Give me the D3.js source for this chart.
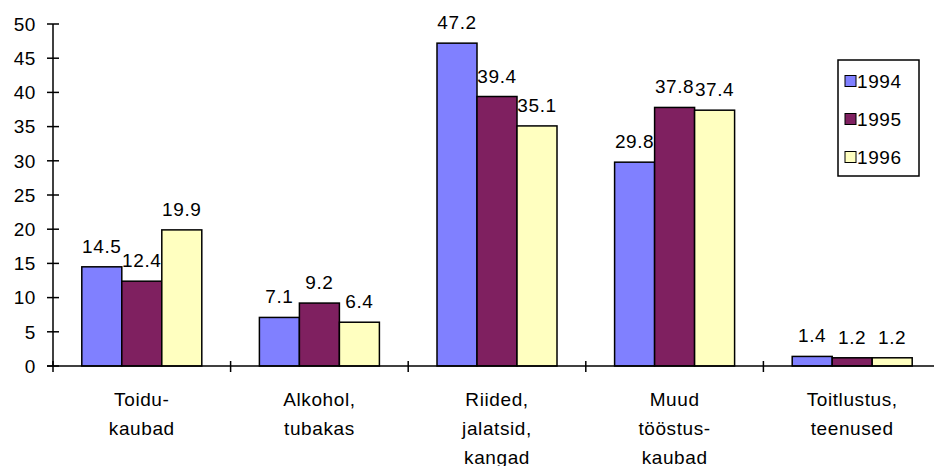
<!DOCTYPE html>
<html>
<head>
<meta charset="utf-8">
<script src="https://cdn.jsdelivr.net/npm/d3@7"></script>
<style>
  body { margin: 0; background: #fff; }
  text { font-family: "Liberation Sans", Arial, sans-serif; fill: #000; letter-spacing: 0.6px; }
</style>
</head>
<body>
<svg class="chart"></svg>
<script>
var categories = ["Toidu-|kaubad", "Alkohol,|tubakas", "Riided,|jalatsid,|kangad", "Muud|tööstus-|kaubad", "Toitlustus,|teenused"];
var years = ["1994", "1995", "1996"];
var v1994 = [14.5, 7.1, 47.2, 29.8, 1.4];
var v1995 = [12.4, 9.2, 39.4, 37.8, 1.2];
var v1996 = [19.9, 6.4, 35.1, 37.4, 1.2];
var yTicks = [0, 5, 10, 15, 20, 25, 30, 35, 40, 45, 50];
var colors = ["#8080ff", "#7f2060", "#ffffc0"];

var width = 934, height = 466;
var x0 = 53, x1 = 941, yTop = 24, yBase = 366;

var series = [v1994, v1995, v1996];

var x = d3.scaleBand()
  .domain(categories)
  .range([x0, x1]);
var xs = d3.scaleBand()
  .domain(years)
  .range([0, x.bandwidth()])
  .paddingOuter(0.72);
var y = d3.scaleLinear()
  .domain([0, 50])
  .range([yBase, yTop]);

var svg = d3.select(".chart")
  .attr("width", width)
  .attr("height", height);

// y axis
var yAxis = svg.append("g");
yAxis.append("line")
  .attr("x1", x0).attr("x2", x0)
  .attr("y1", y(50)).attr("y2", y(0))
  .attr("stroke", "#000").attr("stroke-width", 1.5);
yAxis.selectAll(".tk")
  .data(yTicks)
  .enter().append("line")
    .attr("x1", x0 - 6).attr("x2", x0 + 6)
    .attr("y1", function(d) { return y(d); })
    .attr("y2", function(d) { return y(d); })
    .attr("stroke", "#000").attr("stroke-width", 1.5);
yAxis.selectAll(".lbl")
  .data(yTicks)
  .enter().append("text")
    .attr("x", 36)
    .attr("y", function(d) { return y(d); })
    .attr("dy", "0.36em")
    .attr("text-anchor", "end")
    .style("font-size", "19px")
    .text(function(d) { return d; });

// bars
categories.forEach(function(c, i) {
  years.forEach(function(yr, j) {
    var v = series[j][i];
    svg.append("rect")
      .attr("x", x(c) + xs(yr))
      .attr("y", y(v))
      .attr("width", xs.bandwidth())
      .attr("height", y(0) - y(v))
      .attr("fill", colors[j])
      .attr("stroke", "#000")
      .attr("stroke-width", 1.5);
    svg.append("text")
      .attr("x", x(c) + xs(yr) + xs.bandwidth() / 2)
      .attr("y", y(v) - 14)
      .attr("text-anchor", "middle")
      .style("font-size", "19px")
      .text(v.toFixed(1));
  });
});

// x axis
svg.append("line")
  .attr("x1", x0 - 6).attr("x2", width)
  .attr("y1", yBase).attr("y2", yBase)
  .attr("stroke", "#000").attr("stroke-width", 1.5);
var edges = categories.map(function(c) { return x(c); }).concat([x1]);
svg.selectAll(".xtk")
  .data(edges)
  .enter().append("line")
    .attr("x1", function(d) { return d; })
    .attr("x2", function(d) { return d; })
    .attr("y1", yBase - 5).attr("y2", yBase + 6)
    .attr("stroke", "#000").attr("stroke-width", 1.5);

categories.forEach(function(c) {
  var t = svg.append("text")
    .attr("x", x(c) + x.bandwidth() / 2)
    .attr("y", 406)
    .attr("text-anchor", "middle")
    .style("font-size", "19px");
  c.split("|").forEach(function(part, k) {
    t.append("tspan")
      .attr("x", x(c) + x.bandwidth() / 2)
      .attr("dy", k === 0 ? 0 : 29)
      .text(part);
  });
});

// legend
var lg = svg.append("g");
lg.append("rect")
  .attr("x", 838).attr("y", 60)
  .attr("width", 81).attr("height", 116)
  .attr("fill", "#fff")
  .attr("stroke", "#000").attr("stroke-width", 1.5);
years.forEach(function(yr, j) {
  var cy = 81 + j * 38;
  lg.append("rect")
    .attr("x", 845).attr("y", cy - 5.5)
    .attr("width", 11).attr("height", 11)
    .attr("fill", colors[j])
    .attr("stroke", "#000").attr("stroke-width", 1);
  lg.append("text")
    .attr("x", 857).attr("y", cy)
    .attr("dy", "0.36em")
    .style("font-size", "19px")
    .text(yr);
});
</script>
</body>
</html>
